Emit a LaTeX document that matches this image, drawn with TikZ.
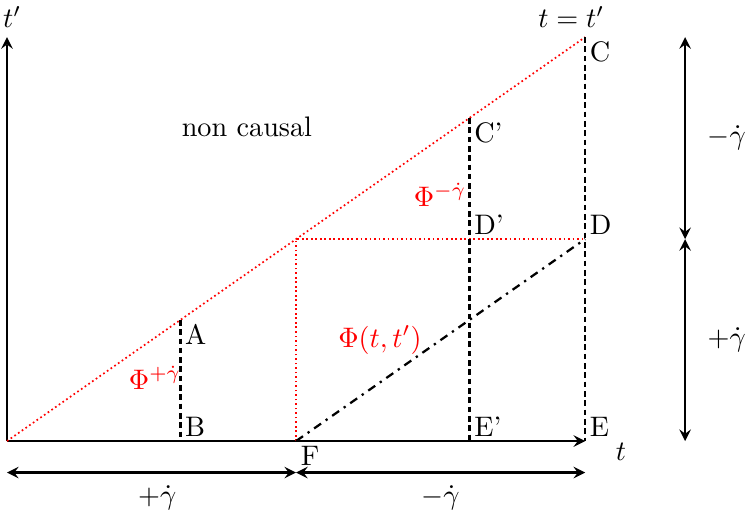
\documentclass[tikz,border=0pt]{standalone}
\usepackage{amssymb}
\usepackage{tikz}
\begin{document}
\begin{tikzpicture}[x=0.72cm, y=0.503cm, >=stealth,
        axis/.style={thick, ->},
        span/.style={thick, <->},
        guide/.style={line width=0.8pt, dash pattern=on 2pt off 1.3pt},
        causal/.style={red, line width=0.6pt, densely dotted},
        pt/.style={inner sep=1.5pt}]
            \useasboundingbox (-0.121,-1.856) rectangle (12.80,10.92);
            \coordinate (O) at (0,0);
            \coordinate (Ttop) at (0,10);
            \coordinate (A) at (3,3);
            \coordinate (B) at (3,0);
            \coordinate (M) at (5,5);
            \coordinate (F) at (5,0);
            \coordinate (Cp) at (8,8);
            \coordinate (Dp) at (8,5);
            \coordinate (Ep) at (8,0);
            \coordinate (C) at (10,10);
            \coordinate (D) at (10,5);
            \coordinate (E) at (10,0);
            \coordinate (bl) at (0,-0.78);
            \coordinate (bm) at (5,-0.78);
            \coordinate (br) at (10,-0.78);
            \coordinate (rb) at (11.73,0);
            \coordinate (rm) at (11.73,5);
            \coordinate (rt) at (11.73,10);
            \draw[axis] (O) -- (E);
            \draw[axis] (O) -- (Ttop);
            \draw[causal] (O) -- (C);
            \draw[causal] (F) -- (M) -- (D);
            \draw[guide] (A) -- (B);
            \draw[guide] (Cp) -- (Ep);
            \draw[guide] (C) -- (E);
            \draw[thick, dash dot] (F) -- (D);
            \draw[span] (bl) -- (bm);
            \draw[span] (bm) -- (br);
            \draw[span] (rb) -- (rm);
            \draw[span] (rm) -- (rt);
            \node[pt, below right] (lA) at (A) {A};
            \node[pt, above right] (lB) at (B) {B};
            \node[pt, below right] (lC) at (C) {C};
            \node[pt, below right] (lCp) at (Cp) {C'};
            \node[pt, above right] (lDp) at (Dp) {D'};
            \node[pt, above right] (lD) at (D) {D};
            \node[pt, above right] (lEp) at (Ep) {E'};
            \node[pt, above right] (lE) at (E) {E};
            \node[pt, below right] (lF) at (F) {F};
            \node (tp) at (0.09,10.5) {$t'$};
            \node (tt) at (9.76,10.5) {$t=t'$};
            \node (tx) at (10.62,-0.27) {$t$};
            \node (nc) at (4.15,7.77) {non causal};
            \node[red] (phip) at (2.56,1.56) {$\Phi^{+\dot\gamma}$};
            \node[red] (phim) at (7.49,6.1) {$\Phi^{-\dot\gamma}$};
            \node[red] (phi) at (6.45,2.5) {$\Phi(t,t')$};
            \node (gl) at (2.6,-1.41) {$+\dot\gamma$};
            \node (gr) at (7.5,-1.41) {$-\dot\gamma$};
            \node (gt) at (12.45,7.5) {$-\dot\gamma$};
            \node (gb) at (12.45,2.5) {$+\dot\gamma$};
        \end{tikzpicture}
\end{document}
